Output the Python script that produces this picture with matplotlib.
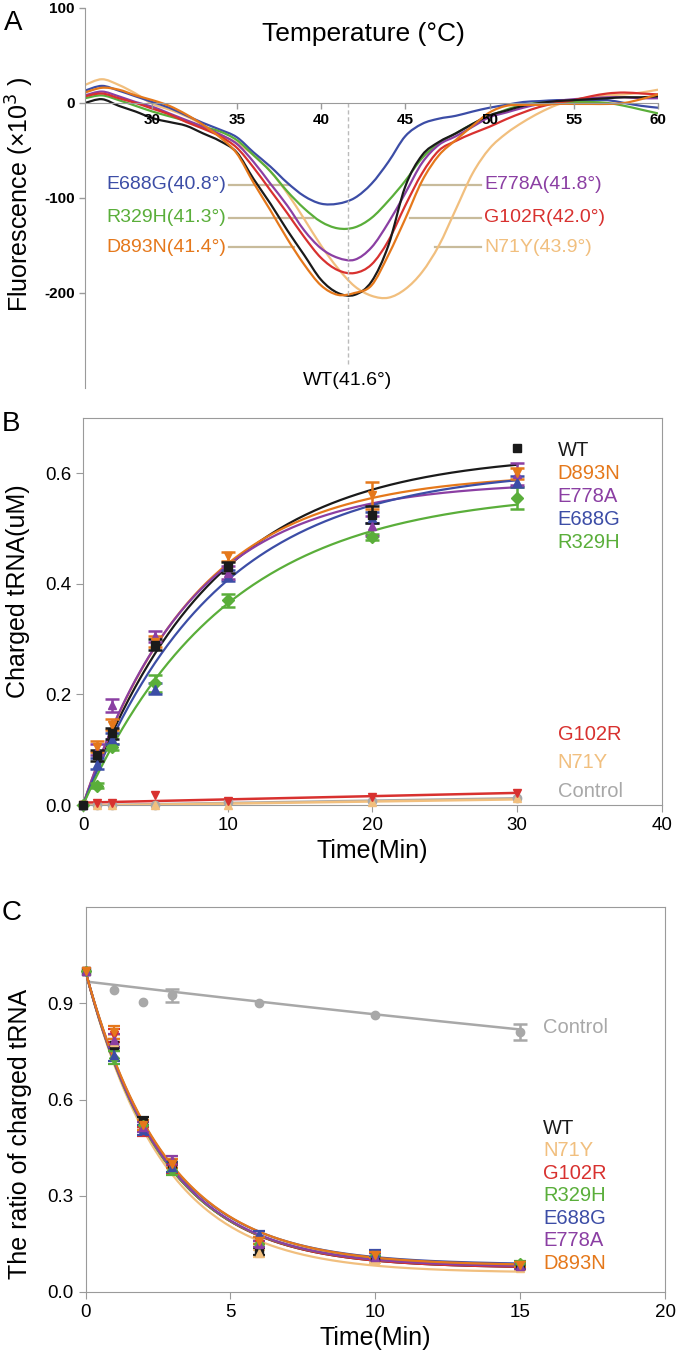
import numpy as np
import matplotlib.pyplot as plt
from matplotlib.path import Path
from matplotlib.patches import PathPatch

plt.rcParams['font.family'] = ['Liberation Sans', 'DejaVu Sans']

GRAY = '#9a9a9a'
COL = {'WT': '#1a1a1a', 'N71Y': '#f1bf7e', 'G102R': '#d8312f', 'R329H': '#5aae3a',
       'E688G': '#3c4da6', 'E778A': '#8b3fa3', 'D893N': '#e5781b', 'Control': '#a8a8a8'}
MRK = {'WT': 's', 'N71Y': '^', 'G102R': 'v', 'R329H': 'D', 'E688G': '^',
       'E778A': '^', 'D893N': 'v', 'Control': 'o'}

# ---------------- A: thermal shift (-dF/dT, x10^3) ----------------
temp_a = list(range(26, 61))
wt_a = [0, 4, -3, -9, -16, -20, -24, -32, -40, -52, -80, -106, -134, -160, -186, -200, -202, -188,
        -150, -88, -55, -41, -32, -22, -13, -8, -3, 0, 2, 3, 4, 5, 6, 6, 7]
d893n_a = [11, 16, 14, 8, 3, -3, -12, -23, -36, -53, -84, -113, -143, -170, -192, -202, -200, -192,
           -160, -122, -82, -55, -39, -24, -10, -3, -2, -2, -1, -1, -1, -1, 0, 4, 9]
g102r_a = [7, 10, 5, 0, -6, -12, -20, -27, -35, -47, -68, -92, -116, -141, -163, -176, -179, -170,
           -145, -108, -74, -50, -40, -32, -25, -17, -10, -4, 0, 3, 7, 10, 11, 10, 9]
e778a_a = [8, 12, 7, 1, -4, -11, -18, -25, -33, -43, -62, -85, -108, -134, -153, -163, -165, -152,
           -126, -95, -63, -44, -35, -25, -15, -10, -5, -1, 2, 4, 5, 6, 6, 5, 5]
r329h_a = [5, 8, 3, -3, -9, -14, -19, -25, -30, -39, -55, -72, -93, -111, -125, -132, -131, -121,
           -103, -82, -58, -42, -32, -22, -14, -7, -2, 0, 1, 1, 1, 0, -3, -7, -11]
e688g_a = [13, 18, 13, 7, 1, -5, -13, -21, -28, -36, -52, -67, -84, -98, -106, -106, -100, -85,
           -62, -35, -22, -16.5, -13.5, -9, -5, -2, 1, 2, 3, 3, 3, 3, 0, -3, -5]
n71y_a = [19, 25, 19, 10, -1, -7, -14, -23, -33, -42, -55, -72, -95, -122, -150, -174, -193, -203,
          -205, -196, -178, -150, -112, -74, -48, -32, -20, -10, -2, 3, 6, 8, 9, 11, 14]
tm_a = {'E688G': '40.8', 'R329H': '41.3', 'D893N': '41.4', 'E778A': '41.8',
        'G102R': '42.0', 'N71Y': '43.9'}

# ---------------- B: aminoacylation ----------------
time_b = [0, 1, 2, 5, 10, 20, 30]
wt_b = [0.0, 0.09, 0.13, 0.29, 0.43, 0.525, 0.645]
wt_b_err = [0, 0.01, 0.01, 0.01, 0.01, 0.015, 0]
d893n_b = [0.0, 0.105, 0.145, 0.295, 0.45, 0.56, 0.60]
d893n_b_err = [0, 0.01, 0.01, 0.01, 0.008, 0.025, 0.01]
e778a_b = [0.0, 0.10, 0.18, 0.305, 0.42, 0.505, 0.598]
e778a_b_err = [0, 0.01, 0.012, 0.01, 0.012, 0.018, 0.02]
e688g_b = [0.0, 0.075, 0.12, 0.21, 0.415, 0.52, 0.585]
e688g_b_err = [0, 0.01, 0.01, 0.01, 0.01, 0.01, 0.01]
r329h_b = [0.0, 0.035, 0.105, 0.22, 0.37, 0.485, 0.555]
r329h_b_err = [0, 0.005, 0.005, 0.015, 0.012, 0.005, 0.02]
g102r_b = [0.0, 0.004, 0.004, 0.018, 0.007, 0.015, 0.022]
n71y_b = [0.0, 0.0, 0.0, 0.0, 0.0, 0.005, 0.012]
control_b = [0.0, 0.0, 0.0, 0.0, 0.005, 0.008, 0.012]
# one-phase association fits: plateau, rate (1/min)
fit_names_b = ['WT', 'D893N', 'E778A', 'E688G', 'R329H']
plateau_b = [0.637, 0.600, 0.585, 0.610, 0.570]
rate_b = [0.113, 0.130, 0.135, 0.110, 0.102]

# ---------------- C: deacylation ----------------
time_c = [0, 1, 2, 3, 6, 10, 15]
control_c = [1.0, 0.94, 0.905, 0.925, 0.90, 0.865, 0.81]
control_c_err = [0, 0, 0, 0.02, 0, 0, 0.025]
wt_c = [1.0, 0.77, 0.53, 0.40, 0.125, 0.11, 0.08]
n71y_c = [1.0, 0.78, 0.52, 0.39, 0.12, 0.10, 0.075]
g102r_c = [1.0, 0.80, 0.50, 0.385, 0.15, 0.11, 0.085]
r329h_c = [1.0, 0.73, 0.52, 0.38, 0.15, 0.115, 0.09]
e688g_c = [1.0, 0.74, 0.505, 0.39, 0.18, 0.12, 0.085]
e778a_c = [1.0, 0.785, 0.515, 0.41, 0.15, 0.11, 0.08]
d893n_c = [1.0, 0.81, 0.52, 0.40, 0.16, 0.115, 0.085]
err_c = [0, 0.02, 0.015, 0.015, 0.01, 0.01, 0.008]
# one-phase decay fits: plateau, rate
fit_names_c = ['WT', 'N71Y', 'G102R', 'R329H', 'E688G', 'E778A', 'D893N']
plateau_c = [0.075, 0.060, 0.075, 0.080, 0.085, 0.078, 0.082]
rate_c = [0.370, 0.375, 0.370, 0.375, 0.365, 0.370, 0.360]
control_fit = (0.968, 0.0112)


def smooth_path(x, y):
    # Catmull-Rom curve through the points, drawn as cubic Bezier segments
    x = np.asarray(x, float)
    y = np.asarray(y, float)
    n = len(x)
    verts = [(x[0], y[0])]
    codes = [Path.MOVETO]
    for i in range(n - 1):
        i0, i3 = max(i - 1, 0), min(i + 2, n - 1)
        c1 = (x[i] + (x[i + 1] - x[i0]) / 6, y[i] + (y[i + 1] - y[i0]) / 6)
        c2 = (x[i + 1] - (x[i3] - x[i]) / 6, y[i + 1] - (y[i3] - y[i]) / 6)
        verts += [c1, c2, (x[i + 1], y[i + 1])]
        codes += [Path.CURVE4] * 3
    return Path(verts, codes)


def points(ax, x, y, err, name, ms=6, cap=5, lw=1.8):
    x, y, err = np.asarray(x), np.asarray(y), np.asarray(err)
    m = err > 0
    if m.any():
        ax.errorbar(x[m], y[m], yerr=err[m], fmt='none', ecolor=COL[name], capsize=cap,
                    elinewidth=lw, capthick=lw, clip_on=False, zorder=4)
    ax.plot(x, y, MRK[name], color=COL[name], ms=ms, clip_on=False, zorder=5)


fig = plt.figure(figsize=(6.77, 13.55), dpi=100)

# ===== panel A =====
axA = fig.add_axes([0.1256, 0.7137, 0.8464, 0.2804])
series_a = [('N71Y', n71y_a), ('E688G', e688g_a), ('R329H', r329h_a), ('E778A', e778a_a),
            ('G102R', g102r_a), ('WT', wt_a), ('D893N', d893n_a)]
for name, vals in series_a:
    axA.add_patch(PathPatch(smooth_path(temp_a, vals), fill=False, edgecolor=COL[name], lw=1.6))
axA.set_xlim(26, 60)
axA.set_ylim(-300, 100)
for s in ['top', 'right']:
    axA.spines[s].set_visible(False)
axA.spines['bottom'].set_position(('data', 0))
axA.spines['bottom'].set_bounds(26, 60)
for s in ['left', 'bottom']:
    axA.spines[s].set_color(GRAY)
axA.set_xticks([30, 35, 40, 45, 50, 55, 60])
axA.set_yticks([100, 0, -100, -200])
axA.set_yticklabels(['100', '0', '-100', '-200'])
axA.tick_params(colors=GRAY, length=4, width=1)
for lab in axA.get_xticklabels() + axA.get_yticklabels():
    lab.set_color('black')
    lab.set_fontweight('bold')
    lab.set_fontsize(11)
axA.axvline(41.6, ymin=(-275 + 300) / 400, ymax=300 / 400, color='#bbbbbb', lw=1, ls=(0, (3, 2)))
axA.text(41.6, -292, 'WT(41.6°)', ha='center', va='center', fontsize=14)
axA.text(42.5, 73, 'Temperature (°C)', ha='center', va='center', fontsize=19)
axA.set_ylabel('Fluorescence (×10$^{3}$ )', fontsize=18)
axA.yaxis.set_label_coords(-0.086, 0.51)

LINE = '#c8bb9b'
left_lab = [('E688G', -86, 38.1), ('R329H', -121, 39.5), ('D893N', -152, 38.4)]
right_lab = [('E778A', -86, 45.85), ('G102R', -121, 45.26), ('N71Y', -152, 46.75)]
for name, y, xe in left_lab:
    axA.plot([34.55, xe], [y, y], color=LINE, lw=1.6, zorder=0)
    axA.text(34.35, y, f'{name}({tm_a[name]}°)', ha='right', va='center',
             color=COL[name], fontsize=14)
for name, y, xs in right_lab:
    axA.plot([xs, 49.5], [y, y], color=LINE, lw=1.6, zorder=0)
    axA.text(49.7, y, f'{name}({tm_a[name]}°)', ha='left', va='center',
             color=COL[name], fontsize=14)
fig.text(0.006, 0.983, 'A', fontsize=20, va='center')

# ===== panel B =====
axB = fig.add_axes([0.1226, 0.4059, 0.8552, 0.2856])
tb = np.linspace(0, 30, 200)
data_b = {'WT': (wt_b, wt_b_err), 'D893N': (d893n_b, d893n_b_err), 'E778A': (e778a_b, e778a_b_err),
          'E688G': (e688g_b, e688g_b_err), 'R329H': (r329h_b, r329h_b_err)}
for name, p, k in zip(fit_names_b, plateau_b, rate_b):
    axB.plot(tb, p * (1 - np.exp(-k * tb)), color=COL[name], lw=1.6, zorder=3)
for name in ['R329H', 'E688G', 'E778A', 'D893N', 'WT']:
    vals, err = data_b[name]
    points(axB, time_b, vals, err, name)
for name, vals in [('Control', control_b), ('N71Y', n71y_b), ('G102R', g102r_b)]:
    c = np.polyfit(time_b, vals, 1)
    axB.plot(tb, np.polyval(c, tb), color=COL[name], lw=1.8, zorder=3)
    axB.plot(time_b, vals, MRK[name], color=COL[name], ms=6, clip_on=False, zorder=4)
axB.set_xlim(0, 40)
axB.set_ylim(0, 0.7)
axB.set_xticks([0, 10, 20, 30, 40])
axB.set_yticks([0.0, 0.2, 0.4, 0.6])
axB.set_yticklabels(['0.0', '0.2', '0.4', '0.6'])
for s in axB.spines.values():
    s.set_color(GRAY)
axB.tick_params(colors=GRAY, labelcolor='black', labelsize=13.5, length=5)
axB.set_xlabel('Time(Min)', fontsize=18, labelpad=4)
axB.set_ylabel('Charged tRNA(uM)', fontsize=18)
axB.yaxis.set_label_coords(-0.092, 0.553)
for i, name in enumerate(['WT', 'D893N', 'E778A', 'E688G', 'R329H']):
    axB.text(32.8, 0.642 - i * 0.042, name, color=COL[name], fontsize=14.5, va='center')
for name, y in [('G102R', 0.127), ('N71Y', 0.076), ('Control', 0.024)]:
    axB.text(32.8, y, name, color=COL[name], fontsize=14.5, va='center')
fig.text(0.003, 0.687, 'B', fontsize=20, va='center')

# ===== panel C =====
axC = fig.add_axes([0.1263, 0.0465, 0.856, 0.2841])
tc = np.linspace(0, 15, 200)
data_c = {'WT': wt_c, 'N71Y': n71y_c, 'G102R': g102r_c, 'R329H': r329h_c,
          'E688G': e688g_c, 'E778A': e778a_c, 'D893N': d893n_c}
axC.plot(tc, control_fit[0] * np.exp(-control_fit[1] * tc), color=COL['Control'], lw=1.8)
points(axC, time_c, control_c, control_c_err, 'Control')
for name, p, k in zip(fit_names_c, plateau_c, rate_c):
    axC.plot(tc, (1 - p) * np.exp(-k * tc) + p, color=COL[name], lw=1.6, zorder=3)
for name in fit_names_c:
    points(axC, time_c, data_c[name], err_c, name, ms=5.5, cap=4, lw=1.6)
axC.set_xlim(0, 20)
axC.set_ylim(0, 1.2)
axC.set_xticks([0, 5, 10, 15, 20])
axC.set_yticks([0.0, 0.3, 0.6, 0.9])
axC.set_yticklabels(['0.0', '0.3', '0.6', '0.9'])
for s in axC.spines.values():
    s.set_color(GRAY)
axC.tick_params(colors=GRAY, labelcolor='black', labelsize=13.5, length=5)
axC.set_xlabel('Time(Min)', fontsize=18, labelpad=4)
axC.set_ylabel('The ratio of charged tRNA', fontsize=18)
axC.yaxis.set_label_coords(-0.092, 0.41)
axC.text(15.8, 0.825, 'Control', color=COL['Control'], fontsize=14.5, va='center')
for i, name in enumerate(fit_names_c):
    axC.text(15.8, 0.51 - i * 0.07, name, color=COL[name], fontsize=14.5, va='center')
fig.text(0.003, 0.326, 'C', fontsize=20, va='center')

fig.savefig('out.png', dpi=100)
